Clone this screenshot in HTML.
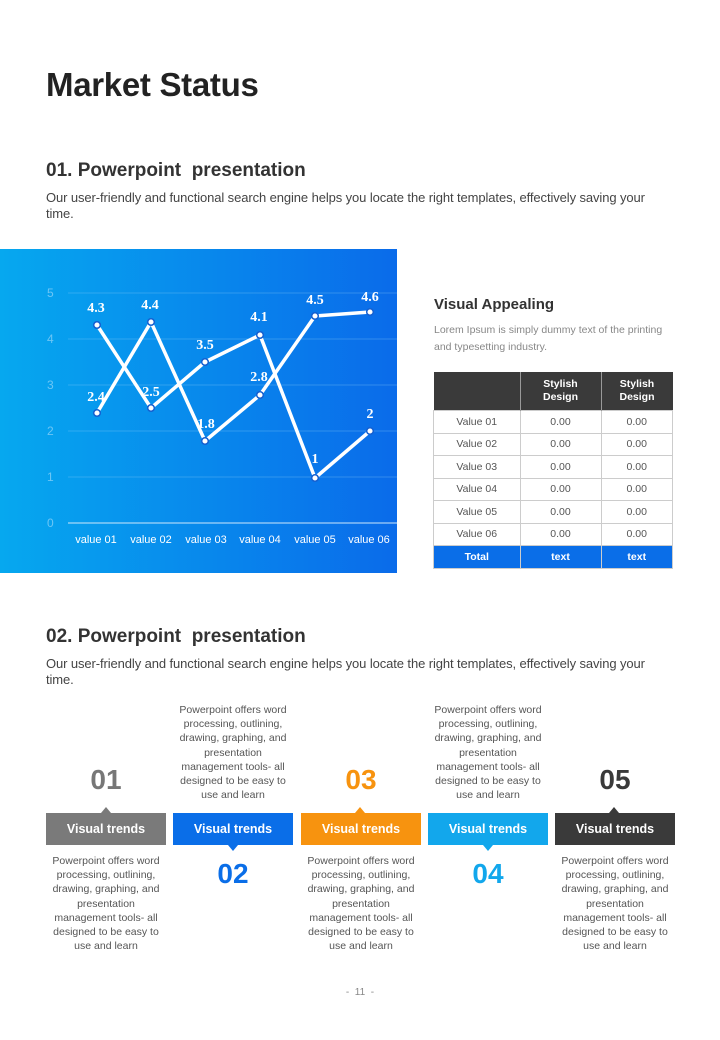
<!DOCTYPE html>
<html><head><meta charset="utf-8"><style>
body{margin:0;width:720px;height:1040px;background:#fff;font-family:"Liberation Sans",sans-serif;position:relative;overflow:hidden}
.a{position:absolute}
h1{position:absolute;left:46px;top:66px;margin:0;font-size:33px;font-weight:bold;color:#222;letter-spacing:-0.3px}
.h2{position:absolute;left:46px;font-size:19px;font-weight:bold;color:#333}
.p{position:absolute;left:46px;width:624px;font-size:13px;color:#444;line-height:16px;letter-spacing:-0.1px}
table{border-collapse:collapse;position:absolute;left:433px;top:372px;width:240px;font-size:10.5px}
td{border:1px solid #ccc;text-align:center;height:21.5px;padding:0;color:#555}
th{background:#3a3a3a;color:#fff;font-size:10.5px;height:36px;border-right:1px solid #999;line-height:13px}
tr.t td{background:#0a6ee8;color:#fff;font-weight:bold;border-color:#ccc}
.box{position:absolute;top:813px;height:32px;width:120px;color:#fff;font-weight:bold;font-size:12.5px;text-align:center;line-height:32px}
.num{position:absolute;width:120px;text-align:center;font-size:28px;font-weight:bold}
.txt{position:absolute;width:120px;text-align:center;font-size:10.5px;color:#555;line-height:14.2px}
.up{position:absolute;top:807px;width:0;height:0;border-left:5px solid transparent;border-right:5px solid transparent}
</style></head><body>
<h1>Market Status</h1>
<div class="h2" style="top:160px">01. Powerpoint&nbsp; presentation</div>
<div class="p" style="top:190px">Our user-friendly and functional search engine helps you locate the right templates, effectively saving your time.</div>
<svg class="a" style="left:0;top:249px" width="397" height="324">
<defs><linearGradient id="g" x1="0" x2="1"><stop offset="0" stop-color="#06a8ef"/><stop offset="1" stop-color="#0a6bea"/></linearGradient></defs>
<rect width="397" height="324" fill="url(#g)"/>
<g stroke="#8fd0f7" stroke-width="0.6" opacity="0.6">
<line x1="68" x2="397" y1="44" y2="44"/><line x1="68" x2="397" y1="90" y2="90"/><line x1="68" x2="397" y1="136" y2="136"/><line x1="68" x2="397" y1="182" y2="182"/><line x1="68" x2="397" y1="228" y2="228"/></g>
<line x1="68" x2="397" y1="274" y2="274" stroke="#cfe8fb" stroke-width="1"/>
<g fill="#6cc6f5" font-size="12">
<text x="47" y="48">5</text><text x="47" y="94">4</text><text x="47" y="140">3</text><text x="47" y="186">2</text><text x="47" y="232">1</text><text x="47" y="278">0</text></g>
<g fill="#fff" font-size="11" text-anchor="middle">
<text x="96" y="294">value 01</text><text x="151" y="294">value 02</text><text x="206" y="294">value 03</text><text x="260" y="294">value 04</text><text x="315" y="294">value 05</text><text x="369" y="294">value 06</text></g>
<g fill="none" stroke="#fff" stroke-width="3.5" stroke-linejoin="round">
<polyline points="97,76 151,159 205,113 260,86 315,229 370,182"/>
<polyline points="97,164 151,73 205,192 260,146 315,67 370,63"/></g>
<g fill="#fff" stroke="#1560d0" stroke-width="1.5">
<circle cx="97" cy="76" r="3.3"/><circle cx="151" cy="159" r="3.3"/><circle cx="205" cy="113" r="3.3"/><circle cx="260" cy="86" r="3.3"/><circle cx="315" cy="229" r="3.3"/><circle cx="370" cy="182" r="3.3"/>
<circle cx="97" cy="164" r="3.3"/><circle cx="151" cy="73" r="3.3"/><circle cx="205" cy="192" r="3.3"/><circle cx="260" cy="146" r="3.3"/><circle cx="315" cy="67" r="3.3"/><circle cx="370" cy="63" r="3.3"/></g>
<g fill="#fff" font-family="Liberation Serif,serif" font-weight="bold" font-size="14" text-anchor="middle">
<text x="96" y="63">4.3</text><text x="150" y="60">4.4</text><text x="205" y="100">3.5</text><text x="259" y="72">4.1</text><text x="315" y="214">1</text><text x="370" y="169">2</text>
<text x="96" y="152">2.4</text><text x="151" y="147">2.5</text><text x="206" y="179">1.8</text><text x="259" y="132">2.8</text><text x="315" y="55">4.5</text><text x="370" y="52">4.6</text></g>
</svg>
<div class="a" style="left:434px;top:296px;font-size:15px;font-weight:bold;color:#333">Visual Appealing</div>
<div class="a" style="left:434px;top:322px;width:240px;font-size:10.5px;color:#888;line-height:17px">Lorem Ipsum is simply dummy text of the printing and typesetting industry.</div>
<table>
<tr><th style="width:84px"></th><th style="width:78px">Stylish<br>Design</th><th style="border-right:none">Stylish<br>Design</th></tr>
<tr><td>Value 01</td><td>0.00</td><td>0.00</td></tr>
<tr><td>Value 02</td><td>0.00</td><td>0.00</td></tr>
<tr><td>Value 03</td><td>0.00</td><td>0.00</td></tr>
<tr><td>Value 04</td><td>0.00</td><td>0.00</td></tr>
<tr><td>Value 05</td><td>0.00</td><td>0.00</td></tr>
<tr><td>Value 06</td><td>0.00</td><td>0.00</td></tr>
<tr class="t"><td>Total</td><td>text</td><td>text</td></tr>
</table>
<div class="h2" style="top:626px">02. Powerpoint&nbsp; presentation</div>
<div class="p" style="top:656px">Our user-friendly and functional search engine helps you locate the right templates, effectively saving your time.</div>

<div class="box" style="left:46px;background:#7a7a7a">Visual trends</div>
<div class="box" style="left:173px;background:#0a6ee8">Visual trends</div>
<div class="box" style="left:301px;background:#f7930f">Visual trends</div>
<div class="box" style="left:428px;background:#12a7ec">Visual trends</div>
<div class="box" style="left:555px;background:#3a3a3a">Visual trends</div>
<div class="up" style="left:101px;border-bottom:6px solid #7a7a7a"></div>
<div class="up" style="left:355px;border-bottom:6px solid #f7930f"></div>
<div class="up" style="left:609px;border-bottom:6px solid #3a3a3a"></div>
<div class="up" style="left:228px;top:845px;border-top:6px solid #0a6ee8"></div>
<div class="up" style="left:483px;top:845px;border-top:6px solid #12a7ec"></div>

<div class="num" style="left:46px;top:764px;color:#777">01</div>
<div class="num" style="left:173px;top:858px;color:#0a6ee8">02</div>
<div class="num" style="left:301px;top:764px;color:#f7930f">03</div>
<div class="num" style="left:428px;top:858px;color:#12a7ec">04</div>
<div class="num" style="left:555px;top:764px;color:#3a3a3a">05</div>

<div class="txt" style="left:46px;top:854px">Powerpoint offers word processing, outlining, drawing, graphing, and presentation management tools- all designed to be easy to use and learn</div>
<div class="txt" style="left:173px;top:703px">Powerpoint offers word processing, outlining, drawing, graphing, and presentation management tools- all designed to be easy to use and learn</div>
<div class="txt" style="left:301px;top:854px">Powerpoint offers word processing, outlining, drawing, graphing, and presentation management tools- all designed to be easy to use and learn</div>
<div class="txt" style="left:428px;top:703px">Powerpoint offers word processing, outlining, drawing, graphing, and presentation management tools- all designed to be easy to use and learn</div>
<div class="txt" style="left:555px;top:854px">Powerpoint offers word processing, outlining, drawing, graphing, and presentation management tools- all designed to be easy to use and learn</div>
<div class="a" style="left:0;width:720px;top:987px;text-align:center;font-size:10px;color:#888">-&nbsp; 11 &nbsp;-</div>
</body></html>
